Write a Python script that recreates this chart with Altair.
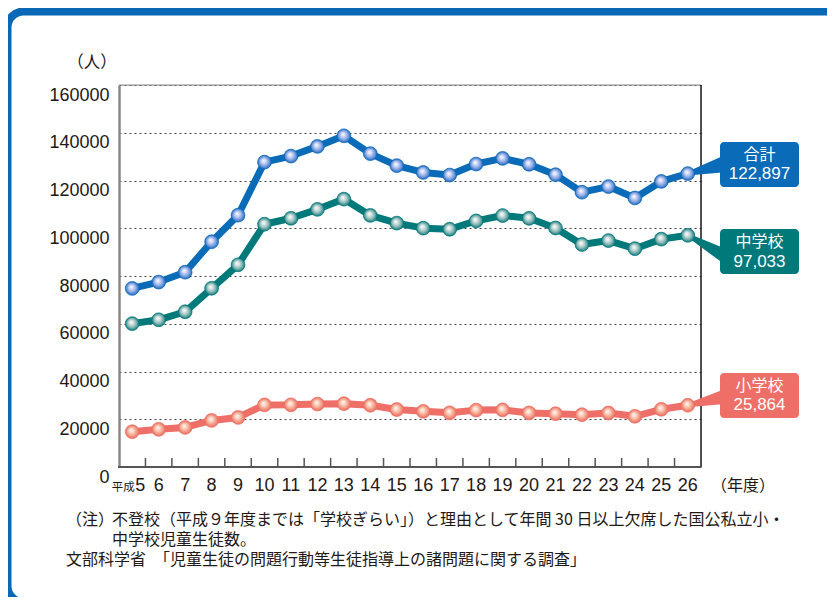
import altair as alt
import pandas as pd

# ---------------- data ----------------
years = list(range(5, 27))  # 平成5 .. 平成26
total = [74808, 77449, 81591, 94351, 105466, 127692, 130227, 134286, 138722, 131252, 126226,
         123358, 122287, 126894, 129255, 126805, 122432, 115100, 117458, 112689, 119617, 122897]
middle = [60039, 61663, 65022, 74853, 84701, 101675, 104180, 107913, 112211, 105383, 102149,
          100040, 99578, 103069, 105328, 104153, 100105, 93200, 94836, 91446, 95442, 97033]
elem = [14769, 15786, 16569, 19498, 20765, 26017, 26047, 26373, 26511, 25869, 24077,
        23318, 22709, 23825, 23927, 22652, 22327, 21900, 22622, 21243, 24175, 25864]
series_names = ["合計", "中学校", "小学校"]
series_colors = ["#0a6bb8", "#00797b", "#ee6e68"]
y_ticks = [0, 20000, 40000, 60000, 80000, 100000, 120000, 140000, 160000]
x_labels = [str(y) for y in years]
note_lines = [
    "（注）",
    "不登校（平成９年度までは「学校ぎらい」）と理由として年間 30 日以上欠席した国公私立小・",
    "中学校児童生徒数。",
    "文部科学省　「児童生徒の問題行動等生徒指導上の諸問題に関する調査」",
]

# ---------------- layout / style ----------------
W, H = 582, 382
FRAME = "#0a69b6"
TXT = "#231815"
JP = "Noto Sans CJK JP"
NUM = "Liberation Sans"
NARROW = "Liberation Sans Narrow, Liberation Sans"

marker_stops = {
    "合計": ["#ffffff", "#cdd9f6", "#86a4e2", "#1d6cc0"],
    "中学校": ["#ffffff", "#d3e3e2", "#86b6b5", "#127c7c"],
    "小学校": ["#fffaf6", "#fcd8c8", "#f4a28c", "#ea6c5f"],
}
# callout geometry relative to the last point (pixels)
callout = {
    "合計": dict(top=-31.6, bot=13.4, wedge="M0,-2 L34,-17 L34,-1 L0,2 Z"),
    "中学校": dict(top=-6.3, bot=38.7, wedge="M0,-2 L34,12 L34,27 L0,2 Z"),
    "小学校": dict(top=-32.3, bot=12.7, wedge="M0,-2 L34,-15 L34,-1 L0,2 Z"),
}

rows = []
for name, vals in zip(series_names, [total, middle, elem]):
    for yr, v in zip(years, vals):
        rows.append({"year": yr, "series": name, "value": v})
df = pd.DataFrame(rows)
last = df[df["year"] == years[-1]].reset_index(drop=True)
one = pd.DataFrame({"a": [0]})

xs = alt.Scale(domain=[years[0] - 0.5, years[-1] + 0.5], nice=False, zero=False)
ys = alt.Scale(domain=[y_ticks[0], y_ticks[-1]], nice=False)
color = alt.Color("series:N", scale=alt.Scale(domain=series_names, range=series_colors), legend=None)

layers = []

# outer rounded frame (stroke only)
layers.append(
    alt.Chart(one).mark_rect(fill="white", fillOpacity=0, stroke=FRAME, strokeWidth=8, cornerRadius=16).encode(
        x=alt.value(-111.5), x2=alt.value(740), y=alt.value(-73.5), y2=alt.value(517)
    )
)

# lines with y axis / grid
layers.append(
    alt.Chart(df).mark_line(strokeWidth=7, strokeJoin="round").encode(
        x=alt.X("year:Q", scale=xs, axis=None),
        y=alt.Y(
            "value:Q", scale=ys,
            axis=alt.Axis(
                values=y_ticks, title=None, ticks=False, format="d",
                domain=True, domainColor="#8c8785", domainWidth=2.5,
                labelFont=NUM, labelFontSize=18, labelColor=TXT, labelPadding=10, labelOffset=10,
                grid=True, gridColor="#444444", gridDash=[2, 3], gridWidth=1,
            ),
        ),
        color=color,
        detail="series:N",
    )
)

# plot borders
layers.append(alt.Chart(one).mark_rule(color="#8a8a8a", strokeWidth=1).encode(
    x=alt.value(0), x2=alt.value(W), y=alt.value(0)))
layers.append(alt.Chart(one).mark_rule(color="#1a1a1a", strokeWidth=1.5).encode(
    x=alt.value(W), y=alt.value(0), y2=alt.value(H)))
layers.append(alt.Chart(one).mark_rule(color="#555555", strokeWidth=2).encode(
    x=alt.value(-1), x2=alt.value(W), y=alt.value(H)))

# x ticks between categories
ticks_df = pd.DataFrame({"t": [y + 0.5 for y in years[:-1]]})
layers.append(alt.Chart(ticks_df).mark_rule(color="#555555", strokeWidth=1.5).encode(
    x=alt.X("t:Q", scale=xs, axis=None), y=alt.value(H), y2=alt.value(H - 9)))

# callout wedges, markers, boxes, texts
for name, col in zip(series_names, series_colors):
    c = callout[name]
    sub = last[last["series"] == name]
    layers.append(
        alt.Chart(sub).mark_point(shape=c["wedge"], size=4, filled=True, fill=col, strokeWidth=0, opacity=1).encode(
            x=alt.X("year:Q", scale=xs, axis=None), y=alt.Y("value:Q", scale=ys)
        )
    )

for name, col in zip(series_names, series_colors):
    st = marker_stops[name]
    grad = alt.RadialGradient(
        gradient="radial",
        stops=[alt.GradientStop(color=st[0], offset=0), alt.GradientStop(color=st[1], offset=0.3),
               alt.GradientStop(color=st[2], offset=0.65), alt.GradientStop(color=st[3], offset=1)],
        x1=0.42, y1=0.38, r1=0, x2=0.5, y2=0.5, r2=0.5,
    )
    layers.append(
        alt.Chart(df).transform_filter(alt.FieldEqualPredicate(field="series", equal=name)).mark_circle(
            size=190, fill=grad, stroke=col, strokeWidth=0.8, opacity=1
        ).encode(x=alt.X("year:Q", scale=xs, axis=None), y=alt.Y("value:Q", scale=ys))
    )

for name, col in zip(series_names, series_colors):
    c = callout[name]
    sub = last[last["series"] == name]
    mid = (c["top"] + c["bot"]) / 2
    layers.append(
        alt.Chart(sub).mark_rect(fill=col, cornerRadius=4, yOffset=c["top"], y2Offset=c["bot"]).encode(
            x=alt.value(601), x2=alt.value(680), y=alt.Y("value:Q", scale=ys), y2="value:Q"
        )
    )
    layers.append(
        alt.Chart(sub).mark_text(font=JP, fontSize=16, color="white", baseline="middle", dy=mid - 9.5).encode(
            x=alt.value(640.5), y=alt.Y("value:Q", scale=ys), text="series:N"
        )
    )
    layers.append(
        alt.Chart(sub).mark_text(font=NUM, fontSize=17, color="white", baseline="middle", dy=mid + 10).encode(
            x=alt.value(640.5), y=alt.Y("value:Q", scale=ys), text=alt.Text("value:Q", format=",")
        )
    )

# x labels
xl = pd.DataFrame({"year": years[1:], "label": x_labels[1:]})
layers.append(
    alt.Chart(xl).mark_text(font=NARROW, fontSize=18, color=TXT, baseline="middle").encode(
        x=alt.X("year:Q", scale=xs, axis=None), y=alt.value(H + 19), text="label:N"
    )
)
first = pd.DataFrame({"year": [years[0]], "label": [x_labels[0]]})
layers.append(
    alt.Chart(first).mark_text(font=NARROW, fontSize=18, color=TXT, baseline="middle", dx=8).encode(
        x=alt.X("year:Q", scale=xs, axis=None), y=alt.value(H + 19), text="label:N"
    )
)
layers.append(
    alt.Chart(first).mark_text(font=JP, fontSize=11.5, color=TXT, baseline="middle", dx=-9, text="平成").encode(
        x=alt.X("year:Q", scale=xs, axis=None), y=alt.value(H + 21)
    )
)

# unit labels
layers.append(alt.Chart(one).mark_text(font=JP, fontSize=16.5, color=TXT, text="（人）").encode(
    x=alt.value(-27), y=alt.value(-22)))
layers.append(alt.Chart(one).mark_text(font=JP, fontSize=16, color=TXT, text="（年度）").encode(
    x=alt.value(624), y=alt.value(H + 19)))

# notes
note_pos = [(-53, 434.5), (-7, 434.5), (-7, 454.5), (-53, 474.5)]
for txt, (nx, ny) in zip(note_lines, note_pos):
    layers.append(alt.Chart(one).mark_text(font=JP, fontSize=16, color=TXT, align="left",
                                           baseline="middle", text=txt).encode(
        x=alt.value(nx), y=alt.value(ny)))

chart = alt.layer(*layers).properties(
    width=W, height=H,
    padding={"left": 111, "top": 77, "right": 126, "bottom": 130},
    autosize=alt.AutoSizeParams(type="none"),
).configure_view(strokeWidth=0).configure(background="white")

chart.save("out.html", embed_options={"renderer": "svg", "actions": False})
